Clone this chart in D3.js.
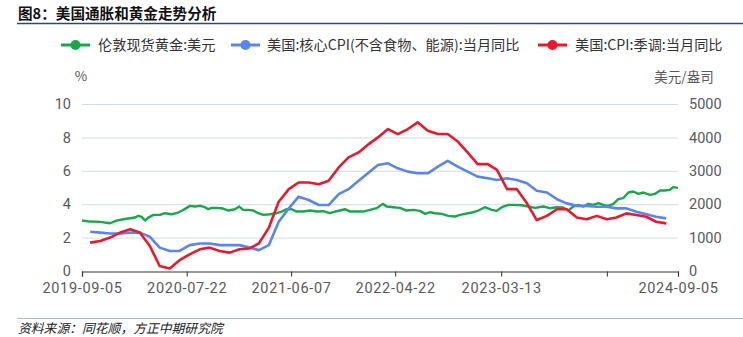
<!DOCTYPE html>
<html><head><meta charset="utf-8">
<script src="https://cdn.jsdelivr.net/npm/d3@7/dist/d3.min.js"></script>
<style>
html,body{margin:0;padding:0;background:#fff;}
svg{display:block;font-family:"Noto Sans CJK SC","Noto Sans",sans-serif;}
</style></head>
<body><svg id="c" width="743" height="337"></svg>
<script>
// ---------- data ----------
const titleText = "图8：美国通胀和黄金走势分析";
const sourceText = "资料来源：同花顺，方正中期研究院";
const seriesNames = ["伦敦现货黄金:美元", "美国:核心CPI(不含食物、能源):当月同比", "美国:CPI:季调:当月同比"];
const leftTicks = [0, 2, 4, 6, 8, 10];
const rightTicks = [0, 1000, 2000, 3000, 4000, 5000];
const xTickDates = ["2019-09-05", "2020-07-22", "2021-06-07", "2022-04-22", "2023-03-13", "2024-01-31", "2024-09-05"];
const xTickLabels = ["2019-09-05", "2020-07-22", "2021-06-07", "2022-04-22", "2023-03-13", "", "2024-09-05"];

const cpiMonths = ["2019-09","2019-10","2019-11","2019-12",
 "2020-01","2020-02","2020-03","2020-04","2020-05","2020-06","2020-07","2020-08","2020-09","2020-10","2020-11","2020-12",
 "2021-01","2021-02","2021-03","2021-04","2021-05","2021-06","2021-07","2021-08","2021-09","2021-10","2021-11","2021-12",
 "2022-01","2022-02","2022-03","2022-04","2022-05","2022-06","2022-07","2022-08","2022-09","2022-10","2022-11","2022-12",
 "2023-01","2023-02","2023-03","2023-04","2023-05","2023-06","2023-07","2023-08","2023-09","2023-10","2023-11","2023-12",
 "2024-01","2024-02","2024-03","2024-04","2024-05","2024-06","2024-07"];
const cpiValues = [1.7,1.8,2.0,2.3,
 2.5,2.3,1.5,0.3,0.15,0.65,1.0,1.3,1.4,1.2,1.1,1.3,
 1.35,1.65,2.6,4.15,4.9,5.3,5.3,5.2,5.4,6.2,6.8,7.1,
 7.6,8.0,8.5,8.2,8.5,8.9,8.4,8.2,8.2,7.75,7.1,6.4,
 6.4,6.05,4.9,4.9,4.05,3.05,3.3,3.7,3.7,3.2,3.1,3.3,
 3.1,3.2,3.45,3.35,3.25,2.95,2.85];
const coreValues = [2.35,2.3,2.25,2.25,
 2.3,2.3,2.05,1.4,1.2,1.2,1.55,1.65,1.65,1.55,1.55,1.55,
 1.4,1.25,1.55,2.95,3.75,4.45,4.25,3.95,3.95,4.6,4.9,5.4,
 5.9,6.35,6.45,6.15,5.95,5.85,5.85,6.25,6.6,6.25,5.95,5.65,
 5.55,5.45,5.55,5.45,5.25,4.8,4.7,4.3,4.05,3.9,3.9,3.85,
 3.85,3.75,3.75,3.55,3.4,3.25,3.15];

const goldDates = ["2019-09-05","2019-09-30","2019-10-30","2019-11-30","2019-12-20","2020-01-10","2020-01-30","2020-02-14","2020-02-25","2020-03-06",
 "2020-03-16","2020-03-26","2020-04-11","2020-05-01","2020-05-16","2020-06-06","2020-06-26","2020-07-12","2020-08-01","2020-08-16",
 "2020-09-01","2020-09-16","2020-09-26","2020-10-07","2020-10-22","2020-11-06","2020-11-27","2020-12-17","2020-12-30","2021-01-11",
 "2021-01-27","2021-02-11","2021-02-26","2021-03-14","2021-04-03","2021-04-24","2021-05-09","2021-05-25","2021-06-09","2021-06-24",
 "2021-07-14","2021-08-04","2021-08-25","2021-09-14","2021-10-04","2021-10-25","2021-11-19","2021-12-05","2021-12-25","2022-01-14",
 "2022-02-04","2022-02-24","2022-03-15","2022-03-27","2022-04-16","2022-05-07","2022-05-27","2022-06-17","2022-07-07","2022-07-23",
 "2022-08-07","2022-08-22","2022-09-12","2022-10-02","2022-10-22","2022-11-07","2022-11-22","2022-12-13","2023-01-02","2023-01-22",
 "2023-02-12","2023-02-27","2023-03-15","2023-04-04","2023-04-24","2023-05-15","2023-06-04","2023-06-25","2023-07-20","2023-08-10",
 "2023-08-30","2023-09-19","2023-10-05","2023-10-20","2023-11-04","2023-11-20","2023-12-05","2023-12-20","2024-01-05","2024-01-20",
 "2024-02-04","2024-02-20","2024-03-06","2024-03-21","2024-04-06","2024-04-21","2024-05-06","2024-05-22","2024-06-11","2024-06-27",
 "2024-07-12","2024-07-27","2024-08-11","2024-08-21","2024-09-05"];
const goldValues = [1510,1480,1470,1430,1510,1550,1580,1600,1650,1620,
 1510,1600,1680,1680,1730,1700,1750,1830,1950,1930,
 1950,1910,1850,1890,1890,1880,1810,1850,1930,1830,
 1830,1810,1730,1680,1700,1730,1780,1850,1850,1780,
 1780,1810,1780,1790,1730,1790,1850,1780,1780,1780,
 1830,1880,2010,1930,1910,1890,1810,1830,1800,1710,
 1760,1730,1710,1650,1630,1680,1710,1750,1810,1910,
 1830,1800,1910,1980,1980,1970,1930,1890,1930,1880,
 1910,1900,1810,1930,1980,1930,2010,1980,2030,1980,
 1950,2010,2150,2180,2350,2380,2310,2350,2280,2310,
 2410,2410,2430,2510,2490];

// ---------- layout ----------
const colors = ["#17a84b", "#5a85ee", "#e8192c"];
const numFont = "Roboto,'Noto Sans',sans-serif";
const svg = d3.select("#c");
const X0 = 82, X1 = 678, Y0 = 271, Y1 = 104;
const parse = d3.timeParse("%Y-%m-%d");
const monthEnd = m => { const d = d3.timeParse("%Y-%m")(m); return d3.timeDay.offset(d3.timeMonth.offset(d, 1), -1); };

const x = d3.scaleTime().domain([parse("2019-09-05"), parse("2024-09-05")]).range([X0, X1]);
const yL = d3.scaleLinear().domain([0, 10]).range([Y0, Y1]);
const yR = d3.scaleLinear().domain([0, 5000]).range([Y0, Y1]);

// title
svg.append("text").attr("x", 18).attr("y", 18.5).attr("font-size", 14.6).attr("font-weight", "bold")
  .attr("fill", "#111").text(titleText);
svg.append("line").attr("x1", 17).attr("x2", 743).attr("y1", 23.5).attr("y2", 23.5)
  .attr("stroke", "#1f4f7a").attr("stroke-width", 1.6);

// legend
const legendPos = [{lx: 61, tx: 98}, {lx: 231, tx: 267}, {lx: 538, tx: 575}];
seriesNames.forEach((n, i) => {
  const g = svg.append("g");
  const p = legendPos[i];
  g.append("line").attr("x1", p.lx).attr("x2", p.lx + 29).attr("y1", 45).attr("y2", 45)
    .attr("stroke", colors[i]).attr("stroke-width", 3);
  g.append("circle").attr("cx", p.lx + 14.5).attr("cy", 45).attr("r", 5).attr("fill", colors[i]);
  g.append("text").attr("x", p.tx).attr("y", 50).attr("font-size", 14.2).attr("fill", "#333").text(n);
});

// gridlines
svg.append("g").selectAll("line").data(leftTicks.filter(d => d > 0)).join("line")
  .attr("x1", X0).attr("x2", X1).attr("y1", d => yL(d) + 0.5).attr("y2", d => yL(d) + 0.5)
  .attr("stroke", "#d3daea").attr("stroke-width", 1);

// left axis
const gl = svg.append("g").attr("transform", `translate(${X0},0)`)
  .call(d3.axisLeft(yL).tickValues(leftTicks).tickSize(0).tickPadding(11).tickFormat(d3.format("d")));
gl.select(".domain").remove();
gl.selectAll("text").attr("font-size", 14.5).attr("fill", "#595959").attr("font-family", numFont);
svg.append("text").attr("x", 81).attr("y", 81).attr("text-anchor", "middle").attr("font-size", 13.5).attr("fill", "#595959").text("%");

// right axis
const gr = svg.append("g").attr("transform", `translate(${X1},0)`)
  .call(d3.axisRight(yR).tickValues(rightTicks).tickSize(0).tickPadding(11).tickFormat(d3.format("d")));
gr.select(".domain").remove();
gr.selectAll("text").attr("font-size", 14.5).attr("fill", "#595959").attr("font-family", numFont);
svg.append("text").attr("x", 684).attr("y", 82).attr("text-anchor", "middle").attr("font-size", 13.5).attr("fill", "#595959").text("美元/盎司");

// bottom axis
const tickDates = xTickDates.map(parse);
const gx = svg.append("g").attr("transform", `translate(0,${Y0 + 0.5})`)
  .call(d3.axisBottom(x).tickValues(tickDates).tickSize(5).tickSizeOuter(5).tickPadding(6)
    .tickFormat((d, i) => xTickLabels[i]));
gx.select(".domain").attr("stroke", "#333").attr("stroke-width", 1.2);
gx.selectAll(".tick line").attr("stroke", "#333");
gx.selectAll("text").attr("font-size", 14.5).attr("letter-spacing", 0.7).attr("fill", "#595959").attr("font-family", numFont);

// series
const lineL = d3.line().x(d => x(d[0])).y(d => yL(d[1]));
const lineR = d3.line().x(d => x(d[0])).y(d => yR(d[1]));
const goldData = goldDates.map((d, i) => [parse(d), goldValues[i]]);
const coreData = cpiMonths.map((m, i) => [monthEnd(m), coreValues[i]]);
const cpiData = cpiMonths.map((m, i) => [monthEnd(m), cpiValues[i]]);

svg.append("path").datum(goldData).attr("d", lineR).attr("fill", "none").attr("stroke", colors[0]).attr("stroke-width", 2.4).attr("stroke-linejoin", "round");
svg.append("path").datum(coreData).attr("d", lineL).attr("fill", "none").attr("stroke", colors[1]).attr("stroke-width", 2.6).attr("stroke-linejoin", "round");
svg.append("path").datum(cpiData).attr("d", lineL).attr("fill", "none").attr("stroke", colors[2]).attr("stroke-width", 2.6).attr("stroke-linejoin", "round");

// footer
svg.append("line").attr("x1", 17).attr("x2", 743).attr("y1", 318.5).attr("y2", 318.5)
  .attr("stroke", "#a9bfcf").attr("stroke-width", 1);
svg.append("text").attr("x", 18).attr("y", 333).attr("font-size", 12.8).attr("font-style", "italic")
  .attr("fill", "#222").text(sourceText);
</script></body></html>
